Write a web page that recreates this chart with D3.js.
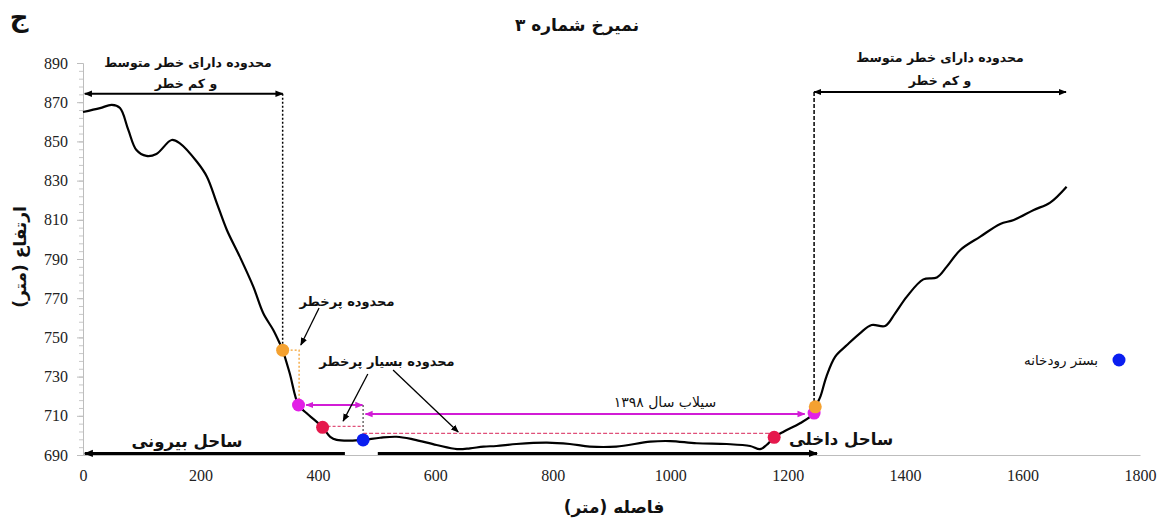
<!DOCTYPE html>
<html><head><meta charset="utf-8">
<script src="https://cdn.jsdelivr.net/npm/d3@7"></script>
<style>body{margin:0;background:#fff}svg{display:block}.tick text{font-family:'Liberation Serif','Times New Roman',serif !important}</style>
</head><body><svg id="c" width="1162" height="522"></svg>
<script>
// ---- data ----
const distance = [0,29,49,63,77,91,108,125,151,165,194,211,228,245,267,290,307,324,335,340,352,367,381,408,421,432,455,477,506,534,562,602,637,659,682,704,738,790,829,863,908,966,1000,1045,1096,1136,1153,1164,1177,1193,1221,1245,1250,1256,1266,1281,1301,1323,1343,1366,1383,1403,1431,1454,1471,1494,1528,1562,1585,1619,1647,1675];
const elevation = [865,867,868.6,867,856,845.6,842.6,843.6,850.7,849,839.6,832,818.4,804.8,791.2,775.9,762.3,753.8,747,743.5,731.7,715.5,711.3,704.1,699.3,697.7,697.3,697.7,698.8,699.3,698,695.1,693,693.4,694.3,694.6,695.6,696.3,695.6,694.3,694.3,696.8,697.1,696,695.6,694.6,693,695.1,699,701.9,706.2,711.4,716,720,730,740.2,746.1,752.1,756.3,755.8,762.3,770.8,779.6,780.6,786.1,794.6,801.4,807.9,809.9,815,818.8,826.9];
const pointDist  = [340, 367, 408, 477, 1177, 1245, 1247];
const pointElev  = [743.5, 715.5, 704.1, 697.7, 699, 711.4, 714.6];
const pointColor = ["#f4a130","#e21fe6","#e5194c","#0a1ef0","#e5194c","#e21fe6","#f4a130"];
const xTicks = [0,200,400,600,800,1000,1200,1400,1600,1800];
const yTicks = [690,710,730,750,770,790,810,830,850,870,890];
const legendLabel = "بستر رودخانه";
const titleText = "نمیرخ شماره ۳";
const panelLetter = "ج";
const xLabel = "فاصله (متر)";
const yLabel = "ارتفاع (متر)";
const zoneModerate = ["محدوده دارای خطر متوسط", "و کم خطر"];
const zoneHigh = "محدوده پرخطر";
const zoneVeryHigh = "محدوده بسیار پرخطر";
const floodLabel = "سیلاب سال ۱۳۹۸";
const outerBank = "ساحل بیرونی";
const innerBank = "ساحل داخلی";

// ---- drawing ----
const svg = d3.select("#c");
const x = d3.scaleLinear([0,1800],[83,1140]);
const y = d3.scaleLinear([690,890],[455,63]);
const FA = "'DejaVu Sans', sans-serif";
const SERIF = "'Liberation Serif','Times New Roman',serif";

const defs = svg.append("defs");
function marker(id, color, size){
  defs.append("marker").attr("id",id).attr("viewBox","0 0 10 10").attr("refX",9).attr("refY",5)
    .attr("markerWidth",size).attr("markerHeight",size).attr("orient","auto-start-reverse")
    .attr("markerUnits","userSpaceOnUse")
    .append("path").attr("d","M0,1 L10,5 L0,9 Z").attr("fill",color);
}
marker("ak","#000",8); marker("am","#d21cd6",8); marker("akb","#000",9);

// minor y ticks
svg.append("g").attr("transform",`translate(${x(0)},0)`)
  .call(d3.axisLeft(y).tickValues(d3.range(690,891,4)).tickSize(4).tickFormat(""))
  .call(g=>g.select(".domain").remove())
  .call(g=>g.selectAll("line").attr("stroke","#c8c8c8"));
// y axis
svg.append("g").attr("transform",`translate(${x(0)},0)`)
  .call(d3.axisLeft(y).tickValues(yTicks).tickSize(6).tickPadding(9).tickFormat(d3.format("d")))
  .attr("font-family",SERIF).attr("font-size",16)
  .call(g=>g.select(".domain").attr("stroke","#bdbdbd"))
  .call(g=>g.selectAll("line").attr("stroke","#bdbdbd"))
  .call(g=>g.selectAll("text").style("font-family",SERIF).attr("font-size",16).attr("fill","#222"));
// x axis
svg.append("g").attr("transform",`translate(0,${y(690)})`)
  .call(d3.axisBottom(x).tickValues(xTicks).tickSize(0).tickPadding(15).tickFormat(d3.format("d")))
  .attr("font-family",SERIF).attr("font-size",16)
  .call(g=>g.select(".domain").attr("stroke","#bdbdbd"))
  .call(g=>g.selectAll("text").style("font-family",SERIF).attr("font-size",16).attr("fill","#222"));

function seg(d1,e1,d2,e2,opts){
  const l = svg.append("line").attr("x1",x(d1)).attr("y1",y(e1)).attr("x2",x(d2)).attr("y2",y(e2))
    .attr("stroke",opts.c||"#000").attr("stroke-width",opts.w||1.5);
  if(opts.dash) l.attr("stroke-dasharray",opts.dash);
  if(opts.end) l.attr("marker-end",`url(#${opts.end})`);
  if(opts.start) l.attr("marker-start",`url(#${opts.start})`);
  return l;
}
// bank arrows on the baseline
seg(446,690.8,3,690.8,{w:3,end:"akb"});
seg(502,690.8,1250,690.8,{w:3,end:"akb"});
// top zone arrows and verticals
seg(3,874.3,340,874.3,{w:1.8,start:"ak",end:"ak"});
seg(1245,875.2,1674,875.2,{w:1.8,start:"ak",end:"ak"});
seg(340,874.3,340,743.5,{w:1.5,dash:"2,2"});
seg(1245,875.2,1245,714.6,{w:1.5,dash:"4,2"});
// orange L
svg.append("path").attr("d",`M${x(340)},${y(743.5)}H${x(368)}V${y(715.5)}`)
  .attr("fill","none").attr("stroke","#f4a130").attr("stroke-width",1.3).attr("stroke-dasharray","2,2");
// short magenta double arrow
seg(380,715.5,476,715.5,{c:"#d21cd6",w:2,start:"am",end:"am"});
// dotted vertical at river bed
seg(477,715.5,477,697.7,{c:"#555",w:1.3,dash:"2,2"});
// red dashed lines
seg(408,704.6,477,704.6,{c:"#e0507a",w:1.3,dash:"3,2"});
seg(477,701,1177,701,{c:"#e0507a",w:1.3,dash:"4,2"});
// long flood arrow
seg(481,710.9,1229,710.9,{c:"#d21cd6",w:2,start:"am",end:"am"});
// pointer arrows
seg(402,765,371,746.1,{w:1.3,end:"ak"});
seg(485,731.3,443,707.3,{w:1.3,end:"ak"});
seg(528,733.4,639,701.7,{w:1.3,end:"ak"});

// profile
svg.append("path").datum(distance.map((d,i)=>[d,elevation[i]]))
  .attr("d",d3.line().x(d=>x(d[0])).y(d=>y(d[1])).curve(d3.curveCatmullRom))
  .attr("fill","none").attr("stroke","#000").attr("stroke-width",2.2);

// points
svg.selectAll("circle.p").data(pointDist).join("circle").attr("class","p")
  .attr("cx",(d)=>x(d)).attr("cy",(d,i)=>y(pointElev[i])).attr("r",6.5)
  .attr("fill",(d,i)=>pointColor[i]);

// legend
svg.append("circle").attr("cx",1119).attr("cy",360).attr("r",6.5).attr("fill",pointColor[3]);

function txt(s,cx,by,size,bold){
  return svg.append("text").attr("x",cx).attr("y",by).attr("text-anchor","middle")
    .attr("direction","rtl").attr("font-family",FA).attr("font-size",size)
    .attr("font-weight",bold?"bold":"normal").attr("fill","#111").text(s);
}
txt(titleText,577,31,17,true);
txt(panelLetter,19,26,26,true);
txt(zoneModerate[0],188,67,12.5,true);
txt(zoneModerate[1],186,88,12.5,true);
txt(zoneModerate[0],940,62,12.5,true);
txt(zoneModerate[1],940,85,12.5,true);
txt(zoneHigh,347,306,13,true);
txt(zoneVeryHigh,387,366,13,true);
txt(floodLabel,665,407,14,false);
txt(outerBank,187,447,16.5,true);
txt(innerBank,841,445,16.5,true);
txt(legendLabel,1061,365,13.5,false);
txt(xLabel,614,513,17,true);
svg.append("text").attr("transform","translate(26,257) rotate(-90)").attr("text-anchor","middle")
  .attr("direction","rtl").attr("font-family",FA).attr("font-size",17).attr("font-weight","bold")
  .attr("fill","#111").text(yLabel);
</script></body></html>
